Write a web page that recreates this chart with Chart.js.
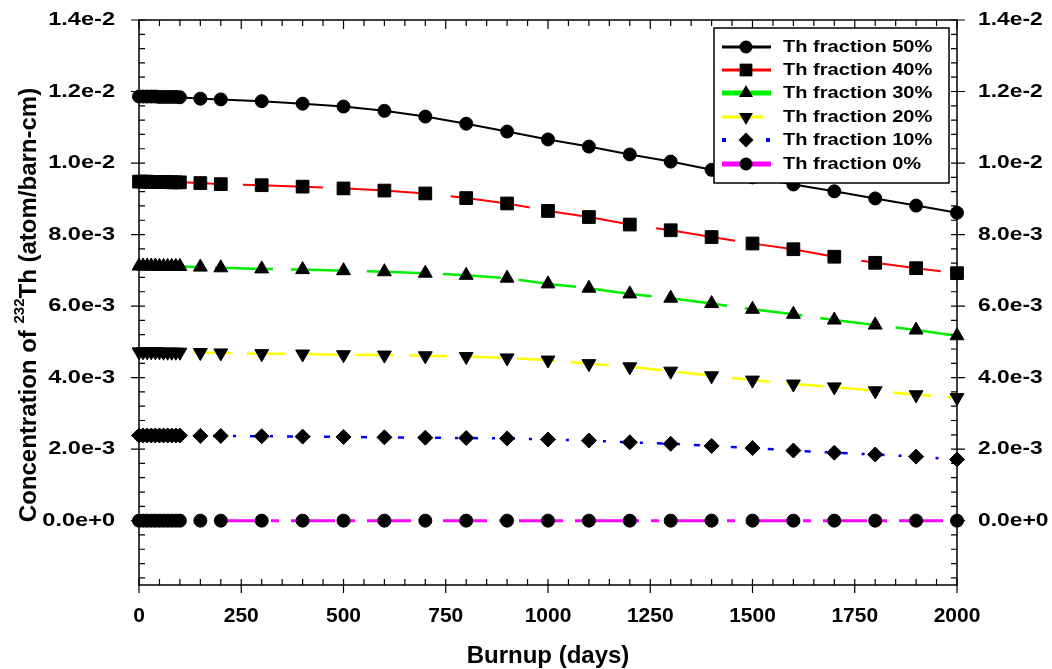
<!DOCTYPE html>
<html>
<head>
<meta charset="utf-8">
<script src="https://cdn.jsdelivr.net/npm/chart.js@4.4.0/dist/chart.umd.min.js"></script>
<style>
html, body { margin: 0; padding: 0; background: #fff; }
#wrap { width: 1052px; height: 669px; }
</style>
</head>
<body>
<div id="wrap"><canvas id="thChart" width="1052" height="669"></canvas></div>
<script>
// Burnup steps (days) - dense at start, then every 100 days
const days = [0, 10, 20, 30, 40, 50, 60, 70, 80, 90, 100, 150, 200, 300, 400, 500, 600, 700, 800, 900, 1000,
              1100, 1200, 1300, 1400, 1500, 1600, 1700, 1800, 1900, 2000];

// Th-232 concentration (atom/barn-cm) per Th fraction
const th50 = [1.186e-2, 1.186e-2, 1.186e-2, 1.186e-2, 1.186e-2, 1.185e-2, 1.185e-2, 1.185e-2, 1.185e-2, 1.185e-2, 1.184e-2,
              1.180e-2, 1.178e-2, 1.173e-2, 1.166e-2, 1.158e-2, 1.146e-2, 1.130e-2, 1.110e-2, 1.088e-2, 1.066e-2,
              1.046e-2, 1.024e-2, 1.004e-2, 0.981e-2, 0.960e-2, 0.940e-2, 0.921e-2, 0.901e-2, 0.881e-2, 0.861e-2];
const th40 = [9.48e-3, 9.48e-3, 9.48e-3, 9.47e-3, 9.47e-3, 9.47e-3, 9.47e-3, 9.47e-3, 9.46e-3, 9.46e-3, 9.46e-3,
              9.44e-3, 9.41e-3, 9.38e-3, 9.34e-3, 9.29e-3, 9.23e-3, 9.15e-3, 9.02e-3, 8.87e-3, 8.66e-3,
              8.49e-3, 8.28e-3, 8.12e-3, 7.93e-3, 7.75e-3, 7.59e-3, 7.38e-3, 7.21e-3, 7.06e-3, 6.92e-3];
const th30 = [7.12e-3, 7.12e-3, 7.12e-3, 7.12e-3, 7.12e-3, 7.11e-3, 7.11e-3, 7.11e-3, 7.11e-3, 7.11e-3, 7.11e-3,
              7.09e-3, 7.07e-3, 7.04e-3, 7.02e-3, 6.99e-3, 6.96e-3, 6.92e-3, 6.86e-3, 6.78e-3, 6.62e-3,
              6.50e-3, 6.34e-3, 6.22e-3, 6.07e-3, 5.91e-3, 5.77e-3, 5.61e-3, 5.47e-3, 5.33e-3, 5.17e-3];
const th20 = [4.72e-3, 4.72e-3, 4.72e-3, 4.72e-3, 4.72e-3, 4.72e-3, 4.71e-3, 4.71e-3, 4.71e-3, 4.71e-3, 4.71e-3,
              4.70e-3, 4.69e-3, 4.67e-3, 4.66e-3, 4.64e-3, 4.63e-3, 4.61e-3, 4.59e-3, 4.55e-3, 4.49e-3,
              4.39e-3, 4.30e-3, 4.18e-3, 4.05e-3, 3.93e-3, 3.82e-3, 3.74e-3, 3.63e-3, 3.52e-3, 3.44e-3];
const th10 = [2.38e-3, 2.38e-3, 2.38e-3, 2.38e-3, 2.38e-3, 2.38e-3, 2.38e-3, 2.38e-3, 2.38e-3, 2.38e-3, 2.38e-3,
              2.37e-3, 2.37e-3, 2.36e-3, 2.35e-3, 2.34e-3, 2.33e-3, 2.32e-3, 2.31e-3, 2.30e-3, 2.27e-3,
              2.24e-3, 2.19e-3, 2.15e-3, 2.09e-3, 2.03e-3, 1.96e-3, 1.90e-3, 1.85e-3, 1.79e-3, 1.71e-3];
const th0  = [0, 0, 0, 0, 0, 0, 0, 0, 0, 0, 0,
              0, 0, 0, 0, 0, 0, 0, 0, 0, 0,
              0, 0, 0, 0, 0, 0, 0, 0, 0, 0];

// Axis ticks
const xTicks = [0, 250, 500, 750, 1000, 1250, 1500, 1750, 2000];
const yTicks = [0, 0.002, 0.004, 0.006, 0.008, 0.010, 0.012, 0.014];
const yTickLabels = ["0.0e+0", "2.0e-3", "4.0e-3", "6.0e-3", "8.0e-3", "1.0e-2", "1.2e-2", "1.4e-2"];

const seriesNames = ["Th fraction 50%", "Th fraction 40%", "Th fraction 30%", "Th fraction 20%", "Th fraction 10%", "Th fraction 0%"];

const BOLD = '"Liberation Sans", Arial, sans-serif';

/**
 * SERIES STYLE TABLE
 */
const styles = [
    { color: "#000000", dash: [],               width: 2,   shape: "circle",  radius: 6.5, rot: 0,   legendWidth: 3 },
    { color: "#ff0000", dash: [80, 24],         width: 2,   shape: "rect",    radius: 9,   rot: 0,   legendWidth: 3 },
    { color: "#00ee00", dash: [58, 18],         width: 2.5, shape: "triangle",radius: 8,   rot: 0,   legendWidth: 5 },
    { color: "#ffff00", dash: [38, 16],         width: 2.5, shape: "triangle",radius: 8,   rot: 180, legendWidth: 3 },
    { color: "#0000ff", dash: [6, 14, 3, 14],   width: 2.5, shape: "rectRot", radius: 7.5, rot: 0,   legendWidth: 4 },
    { color: "#ff00ff", dash: [44, 12, 8, 12],  width: 3,   shape: "circle",  radius: 6.5, rot: 0,   legendWidth: 5 }
];

const allSeries = [th50, th40, th30, th20, th10, th0];

function toPoints(values) {
    return days.map((d, i) => ({ x: d, y: values[i] }));
}

const datasets = allSeries.map((vals, i) => ({
    label: seriesNames[i],
    data: toPoints(vals),
    borderColor: styles[i].color,
    borderWidth: styles[i].width,
    borderDash: styles[i].dash,
    pointStyle: styles[i].shape,
    pointRotation: styles[i].rot,
    pointRadius: styles[i].radius,
    pointBackgroundColor: "#000",
    pointBorderColor: "#000",
    pointBorderWidth: 1,
    tension: 0,
    fill: false,
    clip: false
}));

/**
 * MARKER HELPER (used by legend)
 */
function drawMarker(ctx, shape, rot, x, y, r) {
    ctx.beginPath();
    if (shape === "circle") {
        ctx.arc(x, y, r, 0, Math.PI * 2);
    } else if (shape === "rect") {
        const s = r * Math.SQRT1_2;
        ctx.rect(x - s, y - s, 2 * s, 2 * s);
    } else if (shape === "triangle") {
        const dir = rot === 180 ? -1 : 1;
        ctx.moveTo(x, y - dir * r);
        ctx.lineTo(x - r * 0.866, y + dir * r * 0.5);
        ctx.lineTo(x + r * 0.866, y + dir * r * 0.5);
        ctx.closePath();
    } else if (shape === "rectRot") {
        ctx.moveTo(x, y - r);
        ctx.lineTo(x + r, y);
        ctx.lineTo(x, y + r);
        ctx.lineTo(x - r, y);
        ctx.closePath();
    }
    ctx.fillStyle = "#000";
    ctx.fill();
}

/**
 * AXES, TICKS, LABELS, LEGEND (drawn on top)
 */
const framePlugin = {
    id: "frame",
    afterDatasetsDraw(chart) {
        const { ctx, chartArea: a, scales } = chart;
        const xs = scales.x, ys = scales.y;
        ctx.save();
        ctx.strokeStyle = "#000";
        ctx.lineWidth = 1.5;
        ctx.setLineDash([]);
        ctx.strokeRect(a.left, a.top, a.right - a.left, a.bottom - a.top);

        // x ticks: minor every 50 inside, major outward
        ctx.lineWidth = 1.2;
        ctx.beginPath();
        for (let d = 0; d <= 2000; d += 50) {
            const px = xs.getPixelForValue(d);
            ctx.moveTo(px, a.bottom); ctx.lineTo(px, a.bottom - 6);
            ctx.moveTo(px, a.top); ctx.lineTo(px, a.top + 6);
        }
        xTicks.forEach(d => {
            const px = xs.getPixelForValue(d);
            ctx.moveTo(px, a.bottom); ctx.lineTo(px, a.bottom + 8);
            ctx.moveTo(px, a.top); ctx.lineTo(px, a.top + 9);
        });
        // y ticks: minor every 4e-4 inside, major outward
        for (let i = -4; i <= 35; i++) {
            const py = ys.getPixelForValue(i * 4e-4);
            ctx.moveTo(a.left, py); ctx.lineTo(a.left + 6, py);
            ctx.moveTo(a.right, py); ctx.lineTo(a.right - 6, py);
        }
        yTicks.forEach(v => {
            const py = ys.getPixelForValue(v);
            ctx.moveTo(a.left, py); ctx.lineTo(a.left - 8, py);
            ctx.moveTo(a.right, py); ctx.lineTo(a.right + 8, py);
        });
        ctx.stroke();

        // tick labels
        ctx.fillStyle = "#000";
        ctx.font = "bold 21px " + BOLD;
        ctx.textAlign = "center";
        ctx.textBaseline = "top";
        xTicks.forEach(d => ctx.fillText(String(d), xs.getPixelForValue(d), a.bottom + 21));

        ctx.font = "bold 19px " + BOLD;
        ctx.textBaseline = "middle";
        yTicks.forEach((v, i) => {
            const py = ys.getPixelForValue(v);
            ctx.save();
            ctx.translate(a.left - 24, py);
            ctx.scale(1.24, 1);
            ctx.textAlign = "right";
            ctx.fillText(yTickLabels[i], 0, 0);
            ctx.restore();
            ctx.save();
            ctx.translate(a.right + 21, py);
            ctx.scale(1.2, 1);
            ctx.textAlign = "left";
            ctx.fillText(yTickLabels[i], 0, 0);
            ctx.restore();
        });

        // x title
        ctx.font = "bold 24px " + BOLD;
        ctx.textAlign = "center";
        ctx.textBaseline = "alphabetic";
        ctx.fillText("Burnup (days)", (a.left + a.right) / 2, 663);

        // y title with superscript
        ctx.save();
        ctx.translate(29, 305);
        ctx.rotate(-Math.PI / 2);
        const big = "bold 24px " + BOLD, small = "bold 15px " + BOLD;
        const p1 = "Concentration of ", p2 = "232", p3 = "Th (atom/barn-cm)";
        ctx.font = big; const w1 = ctx.measureText(p1).width, w3 = ctx.measureText(p3).width;
        ctx.font = small; const w2 = ctx.measureText(p2).width;
        let cx = -(w1 + w2 + w3) / 2;
        ctx.textAlign = "left";
        ctx.textBaseline = "middle";
        ctx.font = big; ctx.fillText(p1, cx, 0); cx += w1;
        ctx.font = small; ctx.fillText(p2, cx, -9); cx += w2;
        ctx.font = big; ctx.fillText(p3, cx, 0);
        ctx.restore();

        // legend box
        ctx.fillStyle = "#fff";
        ctx.fillRect(714, 28, 235, 155);
        ctx.strokeStyle = "#000";
        ctx.lineWidth = 1.5;
        ctx.strokeRect(714, 28, 235, 155);
        const rowY = [47, 70, 93, 117, 140, 164];
        seriesNames.forEach((name, i) => {
            const s = styles[i];
            ctx.strokeStyle = s.color;
            ctx.lineWidth = s.legendWidth;
            ctx.setLineDash(i === 4 ? [4, 40] : []);
            ctx.beginPath();
            if (i === 3) { ctx.moveTo(722, rowY[i]); ctx.lineTo(763, rowY[i]); }
            else if (i === 4) { ctx.moveTo(722, rowY[i]); ctx.lineTo(770, rowY[i]); }
            else { ctx.moveTo(722, rowY[i]); ctx.lineTo(771, rowY[i]); }
            ctx.stroke();
            ctx.setLineDash([]);
            drawMarker(ctx, s.shape, s.rot, 746, rowY[i], s.radius);
            ctx.fillStyle = "#000";
            ctx.font = "bold 17px " + BOLD;
            ctx.textAlign = "left";
            ctx.textBaseline = "middle";
            ctx.save();
            ctx.translate(783, rowY[i]);
            ctx.scale(1.18, 1);
            ctx.fillText(name, 0, 0);
            ctx.restore();
        });
        ctx.restore();
    }
};

new Chart(document.getElementById("thChart"), {
    type: "line",
    data: { datasets: datasets },
    options: {
        responsive: false,
        animation: false,
        layout: { padding: { top: 20, left: 0, right: 0, bottom: 0 } },
        plugins: { legend: { display: false }, tooltip: { enabled: false } },
        scales: {
            x: {
                type: "linear", min: 0, max: 2000,
                grid: { display: false }, border: { display: false },
                ticks: { display: false },
                afterFit: s => { s.height = 84; }
            },
            y: {
                type: "linear", position: "left", min: -0.0018, max: 0.014,
                grid: { display: false }, border: { display: false },
                ticks: { display: false },
                afterFit: s => { s.width = 139; }
            },
            y2: {
                type: "linear", position: "right", min: -0.0018, max: 0.014,
                grid: { display: false }, border: { display: false },
                ticks: { display: false },
                afterFit: s => { s.width = 95; }
            }
        }
    },
    plugins: [framePlugin]
});
</script>
</body>
</html>
